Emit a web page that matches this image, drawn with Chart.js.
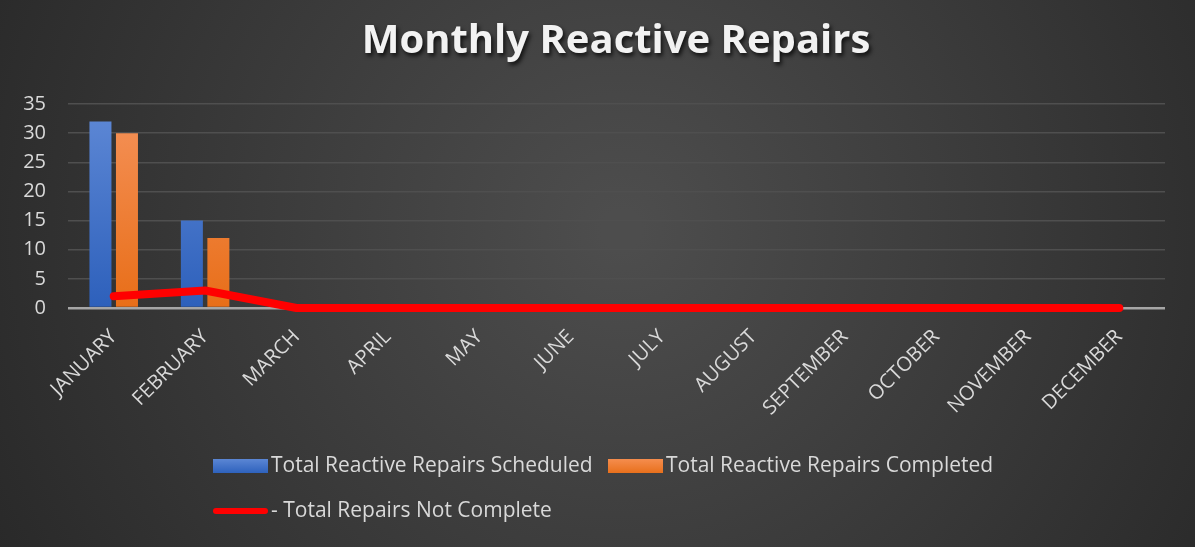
<!DOCTYPE html>
<html>
<head>
<meta charset="utf-8">
<script src="https://cdn.jsdelivr.net/npm/chart.js@4/dist/chart.umd.min.js"></script>
<style>
  html, body { margin: 0; padding: 0; background: #262626; }
  #wrap { width: 1195px; height: 547px; position: relative; }
  canvas { display: block; }
</style>
</head>
<body>
<div id="wrap"><canvas id="c" width="1195" height="547"></canvas></div>
<script>
const months = ['JANUARY','FEBRUARY','MARCH','APRIL','MAY','JUNE','JULY','AUGUST','SEPTEMBER','OCTOBER','NOVEMBER','DECEMBER'];
const scheduled = [32, 15, null, null, null, null, null, null, null, null, null, null];
const completed = [30, 12, null, null, null, null, null, null, null, null, null, null];
const notComplete = [2, 3, 0, 0, 0, 0, 0, 0, 0, 0, 0, 0];
const yTicks = [0, 5, 10, 15, 20, 25, 30, 35];

const chartTitle = 'Monthly Reactive Repairs';
const labelScheduled = 'Total Reactive Repairs Scheduled';
const labelCompleted = 'Total Reactive Repairs Completed';
const labelNotComplete = '- Total Repairs Not Complete';

const FONT = '"Open Sans", "DejaVu Sans", sans-serif';

function vertGradient(ctx, area, top, bottom) {
  const g = ctx.createLinearGradient(0, area.top, 0, area.bottom);
  g.addColorStop(0, top);
  g.addColorStop(1, bottom);
  return g;
}

// dark radial background, title with soft shadow, and a two-row legend
const decor = {
  id: 'decor',
  beforeDraw(chart) {
    const { ctx, width, height } = chart;
    ctx.save();
    const g = ctx.createRadialGradient(width * 0.52, height * 0.42, 20, width * 0.52, height * 0.42, width * 0.62);
    g.addColorStop(0, '#4d4d4d');
    g.addColorStop(1, '#272727');
    ctx.fillStyle = g;
    ctx.fillRect(0, 0, width, height);
    ctx.restore();
  },
  afterDraw(chart) {
    const { ctx } = chart;
    ctx.save();
    // title
    ctx.font = '700 40px ' + FONT;
    ctx.textAlign = 'center';
    ctx.textBaseline = 'middle';
    ctx.shadowColor = 'rgba(0,0,0,0.75)';
    ctx.shadowOffsetX = 2;
    ctx.shadowOffsetY = 3;
    ctx.shadowBlur = 4;
    ctx.fillStyle = '#f2f2f2';
    ctx.fillText(chartTitle, 616, 42);
    ctx.restore();

    // legend
    ctx.save();
    ctx.font = '21px ' + FONT;
    ctx.textAlign = 'left';
    ctx.textBaseline = 'middle';
    const ds = chart.data.datasets;
    const items = [
      { ds: ds[1], x: 213, y: 466, type: 'box', c1: '#5b86d4', c2: '#2e62bd' },
      { ds: ds[2], x: 608, y: 466, type: 'box', c1: '#f58d4e', c2: '#e8701c' },
      { ds: ds[0], x: 213, y: 511, type: 'line' }
    ];
    items.forEach(it => {
      if (it.type === 'box') {
        const g = ctx.createLinearGradient(0, it.y - 7, 0, it.y + 7);
        g.addColorStop(0, it.c1);
        g.addColorStop(1, it.c2);
        ctx.fillStyle = g;
        ctx.fillRect(it.x, it.y - 7, 55, 14);
      } else {
        ctx.strokeStyle = '#ff0000';
        ctx.lineWidth = 6;
        ctx.lineCap = 'round';
        ctx.beginPath();
        ctx.moveTo(it.x + 3, it.y);
        ctx.lineTo(it.x + 52, it.y);
        ctx.stroke();
      }
      ctx.fillStyle = '#d9d9d9';
      ctx.fillText(it.ds.label, it.x + 58, it.y);
    });
    ctx.restore();
  }
};

new Chart(document.getElementById('c'), {
  type: 'bar',
  data: {
    labels: months,
    datasets: [
      {
        type: 'line',
        label: labelNotComplete,
        data: notComplete,
        borderColor: '#ff0000',
        backgroundColor: '#ff0000',
        borderWidth: 8,
        pointRadius: 0,
        tension: 0,
        borderCapStyle: 'round',
        borderJoinStyle: 'round',
        clip: false,
        order: 0
      },
      {
        label: labelScheduled,
        data: scheduled,
        backgroundColor: (c) => c.chart.chartArea ? vertGradient(c.chart.ctx, c.chart.chartArea, '#5f89d6', '#2d60bb') : '#4472c4',
        categoryPercentage: 0.58,
        barPercentage: 0.83,
        order: 1
      },
      {
        label: labelCompleted,
        data: completed,
        backgroundColor: (c) => c.chart.chartArea ? vertGradient(c.chart.ctx, c.chart.chartArea, '#f5925a', '#e86e18') : '#ed7d31',
        categoryPercentage: 0.58,
        barPercentage: 0.83,
        order: 2
      }
    ]
  },
  options: {
    responsive: false,
    animation: false,
    devicePixelRatio: 1,
    layout: { padding: { left: 20, right: 30, top: 104, bottom: 0 } },
    plugins: {
      legend: { display: false },
      title: { display: false },
      tooltip: { enabled: false }
    },
    scales: {
      x: {
        grid: { display: false },
        border: { display: false },
        afterFit(s) { s.paddingLeft = 0; s.paddingRight = 0; s.height = 239; },
        ticks: {
          color: '#d9d9d9',
          font: { family: FONT, size: 20 },
          maxRotation: 45,
          minRotation: 45,
          padding: 9
        }
      },
      y: {
        min: 0,
        max: 35,
        afterBuildTicks(scale) { scale.ticks = yTicks.map(v => ({ value: v })); },
        afterFit(s) { s.width = 48; },
        border: { display: false },
        grid: {
          color: (c) => c.tick && c.tick.value === 0 ? '#a6a6a6' : '#4f4f4f',
          lineWidth: (c) => c.tick && c.tick.value === 0 ? 2.5 : 1.5,
          drawTicks: false
        },
        ticks: {
          color: '#d9d9d9',
          font: { family: FONT, size: 20 },
          padding: 22
        }
      }
    }
  },
  plugins: [decor]
});
</script>
</body>
</html>
